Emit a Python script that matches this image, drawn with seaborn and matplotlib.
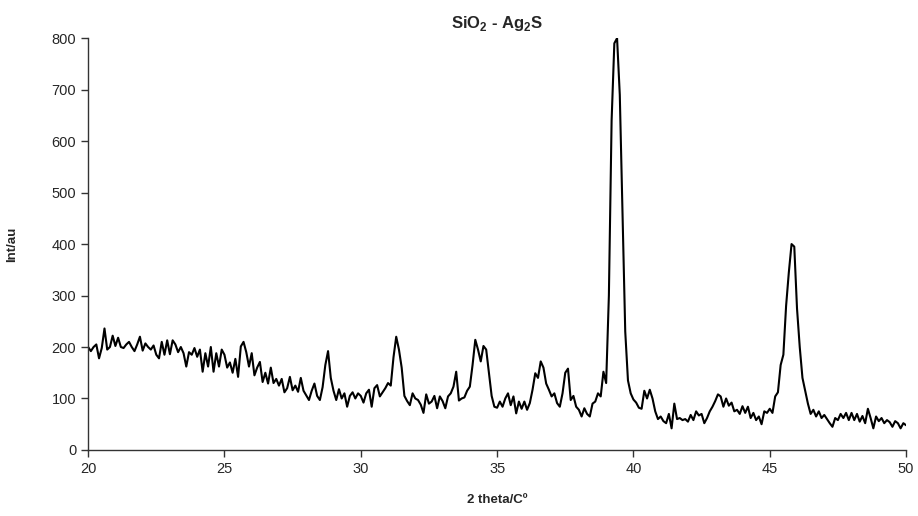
import numpy as np
import pandas as pd
import matplotlib
matplotlib.use("Agg")
import matplotlib.pyplot as plt
import seaborn as sns

# XRD pattern SiO2 - Ag2S, intensities every 0.1 deg
two_theta = np.round(np.arange(20.0, 50.05, 0.1), 1)

int_20_25 = [200, 192, 200, 205, 178, 198, 236, 195, 200, 222,
             202, 218, 200, 198, 205, 210, 200, 192, 205, 220,
             193, 207, 200, 195, 203, 185, 178, 210, 185, 213,
             186, 213, 205, 190, 200, 188, 162, 190, 185, 198,
             181, 195, 152, 188, 162, 200, 152, 188, 162, 195]
int_25_30 = [185, 160, 170, 150, 177, 142, 201, 210, 190, 162,
             188, 145, 160, 171, 132, 150, 129, 160, 130, 138,
             125, 138, 112, 120, 142, 116, 125, 113, 140, 115,
             106, 97, 115, 129, 105, 97, 122, 165, 192, 140,
             115, 97, 118, 100, 110, 84, 105, 112, 100, 110]
int_30_35 = [105, 92, 110, 117, 84, 120, 126, 104, 112, 120,
             130, 125, 180, 220, 195, 160, 105, 95, 87, 110,
             100, 97, 88, 72, 108, 90, 94, 105, 81, 104,
             95, 81, 104, 110, 123, 152, 96, 100, 102, 115,
             123, 165, 214, 195, 172, 202, 195, 150, 105, 84]
int_35_40 = [82, 94, 84, 100, 110, 87, 104, 71, 94, 80,
             94, 78, 91, 117, 149, 140, 172, 160, 129, 117,
             104, 110, 91, 84, 110, 150, 158, 97, 105, 84,
             78, 65, 81, 70, 65, 90, 94, 110, 104, 152,
             130, 300, 640, 790, 800, 690, 460, 230, 135, 110]
int_40_45 = [98, 92, 82, 80, 115, 100, 117, 100, 75, 60,
             65, 56, 52, 70, 42, 90, 60, 62, 58, 60,
             55, 68, 58, 75, 67, 70, 52, 62, 75, 84,
             95, 108, 104, 84, 100, 86, 92, 75, 78, 70,
             85, 72, 84, 62, 72, 58, 65, 50, 75, 72]
int_45_50 = [80, 72, 104, 112, 165, 185, 280, 345, 400, 395,
             275, 200, 140, 115, 90, 70, 78, 65, 75, 62,
             68, 60, 52, 45, 62, 58, 70, 62, 72, 58,
             72, 58, 70, 55, 66, 52, 80, 62, 42, 65,
             56, 62, 52, 58, 54, 45, 56, 52, 42, 52,
             48]

intensity = int_20_25 + int_25_30 + int_30_35 + int_35_40 + int_40_45 + int_45_50
df = pd.DataFrame({"two_theta": two_theta, "intensity": intensity})

x_ticks = [20, 25, 30, 35, 40, 45, 50]
y_ticks = [0, 100, 200, 300, 400, 500, 600, 700, 800]

sns.set_style("ticks")
plt.rcParams["font.family"] = ["Liberation Sans", "DejaVu Sans"]
plt.rcParams["mathtext.fontset"] = "custom"
plt.rcParams["mathtext.rm"] = "Liberation Sans:bold"
plt.rcParams["mathtext.bf"] = "Liberation Sans:bold"

fig = plt.figure(figsize=(9.18, 5.16), dpi=100)
ax = fig.add_axes([0.096, 0.128, 0.891, 0.798])

sns.lineplot(data=df, x="two_theta", y="intensity", color="black",
             linewidth=1.5, estimator=None, ax=ax)

ax.set_xlim(20, 50)
ax.set_ylim(0, 800)
ax.set_xticks(x_ticks)
ax.set_yticks(y_ticks)
ax.tick_params(axis="both", labelsize=10.5, length=5, width=1, color="#333333", direction="out")
sns.despine(ax=ax)
for s in ["left", "bottom"]:
    ax.spines[s].set_color("#333333")
    ax.spines[s].set_linewidth(1)

ax.set_xlabel("2 theta/Cº", fontsize=9.5, fontweight="bold", labelpad=13)
ax.set_ylabel("Int/au", fontsize=9.5, fontweight="bold", labelpad=24)
ax.set_title(r"SiO$_\mathbf{2}$ - Ag$_\mathbf{2}$S", fontsize=12, fontweight="bold", pad=7)

fig.savefig("out.png", dpi=100)
